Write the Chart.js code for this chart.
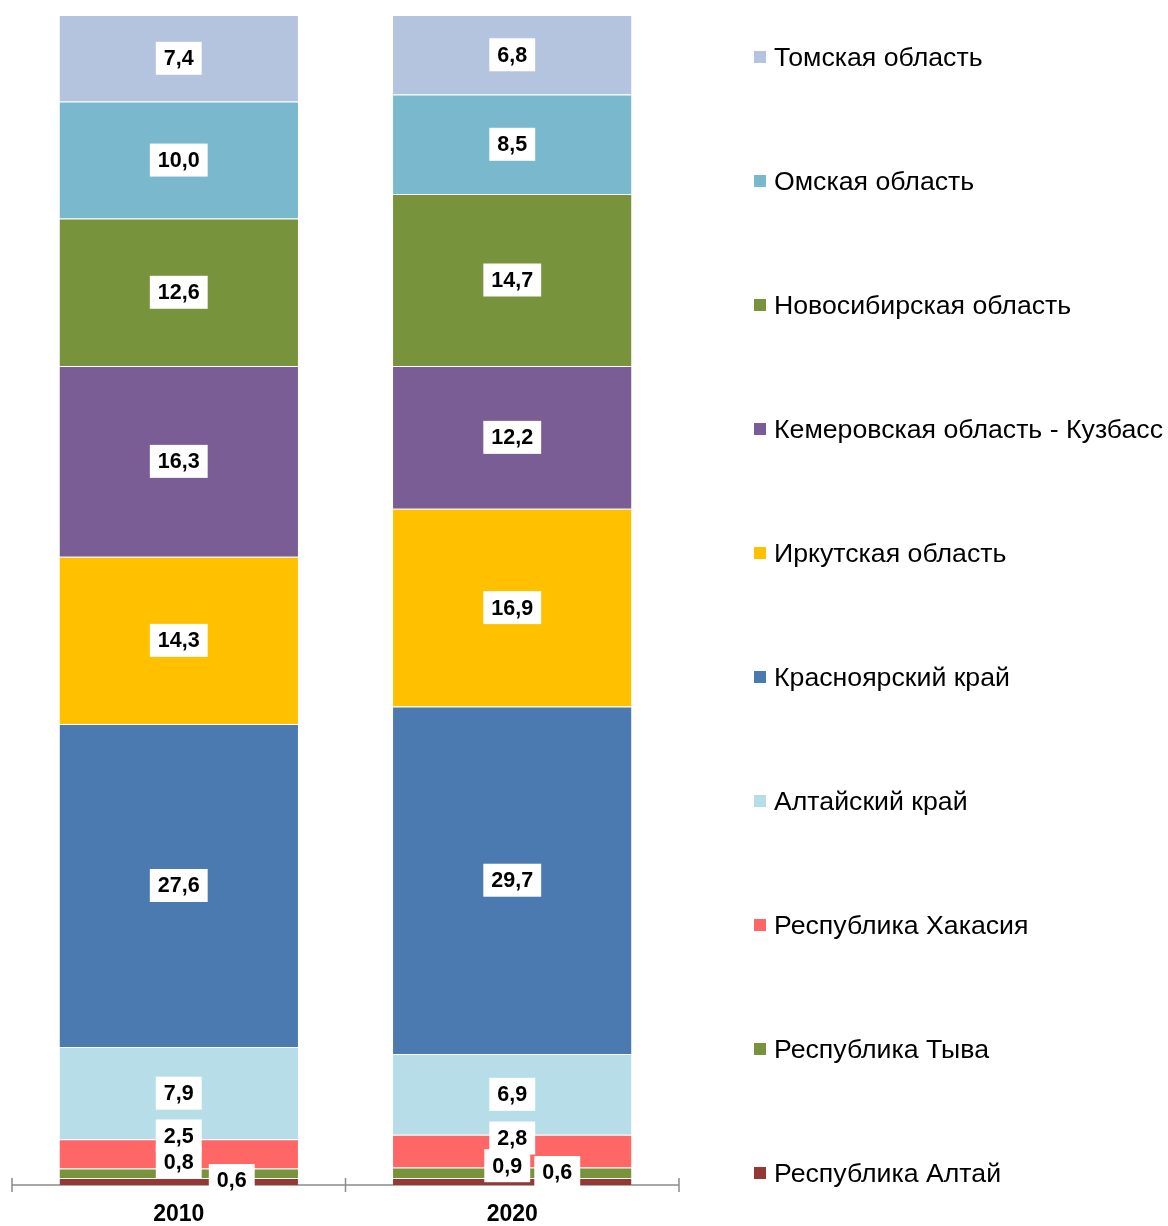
<!DOCTYPE html>
<html>
<head>
<meta charset="utf-8">
<script src="https://cdn.jsdelivr.net/npm/chart.js@4"></script>
<style>
  body { margin: 0; background: #fff; }
  #wrap { position: relative; width: 1168px; height: 1226px; }
  #legend { position: absolute; left: 754px; top: 0; margin: 0; padding: 0; list-style: none;
    font-family: "Liberation Sans", Arial, sans-serif; font-size: 26.7px; color: #000; }
  #legend li { position: absolute; left: 0; white-space: nowrap; display: flex; align-items: center; height: 30px; }
  #legend span.box { display: inline-block; width: 12px; height: 12px; margin-right: 8px; }
</style>
</head>
<body>
<div id="wrap">
  <canvas id="myChart" width="1168" height="1226"></canvas>
  <ul id="legend"></ul>
</div>
<script>
// Данные
const years = ['2010', '2020'];
const regions = ['Республика Алтай', 'Республика Тыва', 'Республика Хакасия', 'Алтайский край',
  'Красноярский край', 'Иркутская область', 'Кемеровская область - Кузбасс',
  'Новосибирская область', 'Омская область', 'Томская область'];
const share2010 = [0.6, 0.8, 2.5, 7.9, 27.6, 14.3, 16.3, 12.6, 10.0, 7.4];
const share2020 = [0.6, 0.9, 2.8, 6.9, 29.7, 16.9, 12.2, 14.7, 8.5, 6.8];
const colors = ['#953735', '#77933C', '#FF6666', '#B7DEE8', '#4A7AB0',
  '#FFC000', '#795D94', '#77933C', '#7AB8CE', '#B4C3DE'];

// сдвиг подписей для маленьких сегментов [dx, dy] по годам
const labelShift = {
  0: [[53, -1], [45, -9]],
  1: [[0, -11], [-5, -7]],
  2: [[0, -18], [0, -13]]
};

const myChartCanvas = document.getElementById('myChart');

// ось X с засечками поперёк линии
const axisPlugin = {
  id: 'axisLine',
  beforeDatasetsDraw(chart) {
    const ctx = chart.ctx;
    const x = chart.scales.x;
    const y = chart.chartArea.bottom;
    const step = (x.right - x.left) / years.length;
    ctx.save();
    ctx.strokeStyle = '#8c8c8c';
    ctx.lineWidth = 1.5;
    ctx.beginPath();
    ctx.moveTo(x.left, y);
    ctx.lineTo(x.right, y);
    for (let i = 0; i <= years.length; i++) {
      const px = x.left + i * step;
      ctx.moveTo(px, y - 7);
      ctx.lineTo(px, y + 7);
    }
    ctx.stroke();
    ctx.restore();
  }
};

// подписи значений в белых рамках
const labelPlugin = {
  id: 'boxLabels',
  afterDatasetsDraw(chart) {
    const ctx = chart.ctx;
    ctx.save();
    ctx.font = 'bold 21.5px "Liberation Sans", Arial, sans-serif';
    ctx.textAlign = 'center';
    ctx.textBaseline = 'middle';
    chart.data.datasets.forEach((ds, i) => {
      const meta = chart.getDatasetMeta(i);
      meta.data.forEach((bar, j) => {
        const txt = ds.data[j].toFixed(1).replace('.', ',');
        const sh = labelShift[i] ? labelShift[i][j] : [0, 0];
        const cx = bar.x + sh[0];
        const cy = (bar.y + bar.base) / 2 + sh[1];
        const w = ctx.measureText(txt).width + 16;
        const h = 33;
        ctx.fillStyle = '#fff';
        ctx.fillRect(cx - w / 2, cy - h / 2, w, h);
        ctx.fillStyle = '#000';
        ctx.fillText(txt, cx, cy + 1);
      });
    });
    ctx.restore();
  }
};

const myChart = new Chart(myChartCanvas, {
  type: 'bar',
  data: {
    labels: years,
    datasets: regions.map((name, i) => ({
      label: name,
      data: [share2010[i], share2020[i]],
      backgroundColor: colors[i],
      borderColor: 'rgba(255,255,255,0.55)',
      borderWidth: { top: 1, bottom: 0, left: 0, right: 0 },
      borderSkipped: false,
      categoryPercentage: 1,
      barPercentage: 0.715
    }))
  },
  options: {
    responsive: false,
    animation: false,
    layout: { padding: { left: 12, right: 489, top: 15, bottom: 0 } },
    plugins: { legend: { display: false }, tooltip: { enabled: false } },
    scales: {
      x: {
        stacked: true,
        grid: { display: false, drawTicks: false },
        border: { display: false },
        afterFit(scale) { scale.height = 41; },
        ticks: {
          padding: 16,
          color: '#000',
          font: { family: '"Liberation Sans", Arial, sans-serif', size: 23, weight: 'bold' }
        }
      },
      y: { stacked: true, min: 0, max: 100, display: false }
    }
  },
  plugins: [axisPlugin, labelPlugin]
});

// легенда справа, сверху вниз в обратном порядке
const legendEl = document.getElementById('legend');
regions.slice().reverse().forEach((name, k) => {
  const i = regions.length - 1 - k;
  const li = document.createElement('li');
  li.style.top = (57 + k * 124 - 15) + 'px';
  li.innerHTML = `<span class="box" style="background:${colors[i]}"></span>${name}`;
  legendEl.appendChild(li);
});
</script>
</body>
</html>
